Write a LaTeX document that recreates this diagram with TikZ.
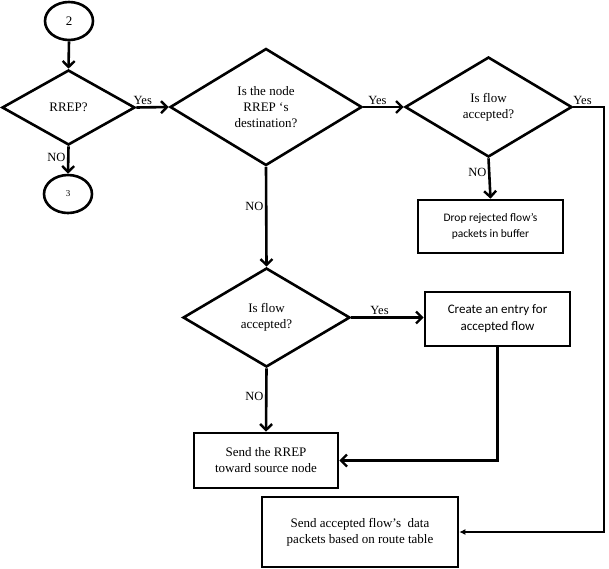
\documentclass[tikz,border=0pt]{standalone}
\usepackage{fontspec}
\setmainfont{Liberation Serif}
\newfontfamily\calib{Carlito}
\usetikzlibrary{shapes.geometric,arrows.meta}
\begin{document}
\begin{tikzpicture}[x=1pt,y=-1pt, line width=2.6pt,
 font=\fontsize{13}{16}\selectfont,
 dia/.style={draw, diamond, inner sep=0pt, align=center},
 circ/.style={draw, ellipse, inner sep=0pt, minimum width=48pt, minimum height=38pt},
 boxn/.style={draw, rectangle, align=center, inner sep=0pt},
 sansb/.style={font=\calib\fontsize{13}{17}\selectfont},
 arr/.style={-{Straight Barb[length=6pt,width=12pt,line width=2.4pt]}},
 farr/.style={-{Latex[length=6pt,width=6pt]}},
 lab/.style={font=\fontsize{12.5}{14}\selectfont, inner sep=1.5pt}]
\useasboundingbox (0,0) rectangle (609,568);

\node[circ] (c2) at (69,21) {2};
\node[dia, minimum width=133pt, minimum height=75pt] (d1) at (68.5,107.5) {RREP?};
\node[circ, font=\fontsize{9}{11}\selectfont] (c3) at (68,194) {3};
\node[dia, minimum width=192pt, minimum height=117pt] (d2) at (266,107) {Is the node\\RREP ‘s\\destination?};
\node[dia, minimum width=167pt, minimum height=100pt] (d3) at (488.5,107) {Is flow\\accepted?};
\node[boxn, minimum width=145pt, minimum height=53pt, font=\calib\fontsize{11.5}{16}\selectfont] (drop) at (490.5,226.5) {Drop rejected flow’s\\packets in buffer};
\node[dia, minimum width=167pt, minimum height=99pt] (d4) at (266.5,317.5) {Is flow\\accepted?};
\node[boxn, sansb, minimum width=145pt, minimum height=54pt] (create) at (497.5,319) {Create an entry for\\accepted flow};
\node[boxn, minimum width=144pt, minimum height=55pt] (rrep) at (266,460.5) {Send the RREP\\toward source node};
\node[boxn, minimum width=196pt, minimum height=70pt] (data) at (360,532) {Send accepted flow’s~ data\\packets based on route table};
\coordinate (rt) at (604,107);

\draw[arr] (c2.south) -- (d1.north);
\draw[arr] (d1.south) -- node[lab, left, pos=0.4] {NO} (c3.north);
\draw[arr] (d1.east) -- node[lab, above, pos=0.2] {Yes} (d2.west);
\draw[arr] (d2.east) -- node[lab, above, pos=0.35] {Yes} (d3.west);
\draw[arr] (d3.south) -- node[lab, left, pos=0.35] {NO} (drop.north);
\draw[arr] (d2.south) -- node[lab, left, pos=0.4] {NO} (d4.north);
\draw[arr] (d4.east) -- node[lab, above, pos=0.39] {Yes} (d4.east -| create.west);
\draw[arr] (d4.south) -- node[lab, left, pos=0.45] {NO} (rrep.north);
\draw[arr] (create.south) -- (create.south |- rrep.east) -- (rrep.east);
\draw[farr] (d3.east) -- node[lab, above, pos=0.3] {Yes} (rt) -- (rt |- data.east) -- (data.east);
\end{tikzpicture}
\end{document}
